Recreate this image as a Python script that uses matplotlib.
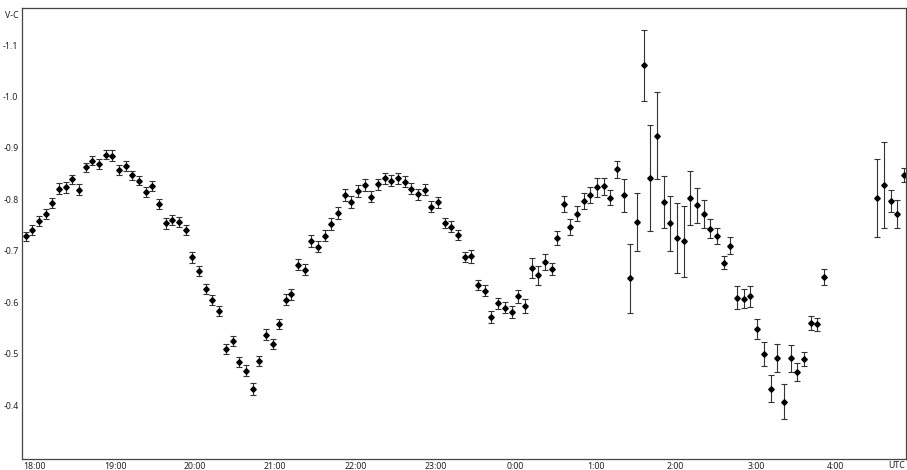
import numpy as np
import matplotlib
matplotlib.use("Agg")
import matplotlib.pyplot as plt

# minutes after 18:00 UTC
minutes = [-7, -2, 3, 8, 13, 18, 23, 28, 33, 38,
           43, 48, 53, 58, 63, 68, 73, 78, 83, 88,
           93, 98, 103, 108, 113, 118, 123, 128, 133, 138,
           143, 148, 153, 158, 163, 168, 173, 178, 183, 188,
           192, 197, 202, 207, 212, 217, 222, 227, 232, 237,
           242, 247, 252, 257, 262, 267, 272, 277, 282, 287,
           292, 297, 302, 307, 312, 317, 322, 327, 332, 337,
           342, 347, 352, 357, 362, 367, 372, 377, 382, 387,
           391, 396, 401, 406, 411, 416, 421, 426, 431, 436,
           441, 446, 451, 456, 461, 466, 471, 476, 481, 486,
           491, 496, 501, 506, 511, 516, 521, 526, 531, 536,
           541, 546, 551, 556, 561, 566, 571, 576, 581, 586,
           591,
           631, 636, 641, 646, 651]

v_c = [-0.728, -0.740, -0.758, -0.771, -0.793, -0.821, -0.823, -0.839, -0.819, -0.862,
       -0.875, -0.869, -0.887, -0.885, -0.857, -0.865, -0.847, -0.836, -0.814, -0.826,
       -0.791, -0.753, -0.760, -0.756, -0.740, -0.687, -0.660, -0.626, -0.604, -0.583,
       -0.509, -0.524, -0.484, -0.467, -0.431, -0.486, -0.537, -0.519, -0.557, -0.605,
       -0.615, -0.673, -0.663, -0.719, -0.708, -0.729, -0.752, -0.773, -0.808, -0.795,
       -0.816, -0.828, -0.805, -0.829, -0.841, -0.836, -0.841, -0.834, -0.821, -0.810,
       -0.819, -0.786, -0.794, -0.754, -0.747, -0.730, -0.688, -0.689, -0.634, -0.622,
       -0.571, -0.598, -0.589, -0.581, -0.611, -0.593, -0.666, -0.652, -0.678, -0.664,
       -0.725, -0.791, -0.746, -0.772, -0.797, -0.808, -0.823, -0.825, -0.803, -0.858,
       -0.808, -0.646, -0.756, -1.061, -0.842, -0.924, -0.795, -0.753, -0.724, -0.718,
       -0.803, -0.788, -0.772, -0.743, -0.729, -0.677, -0.710, -0.609, -0.607, -0.611,
       -0.548, -0.499, -0.432, -0.492, -0.406, -0.491, -0.464, -0.490, -0.560, -0.557,
       -0.649,
       -0.803, -0.828, -0.797, -0.772, -0.847]

err = [0.009, 0.010, 0.009, 0.010, 0.010, 0.010, 0.010, 0.009, 0.010, 0.009,
       0.009, 0.010, 0.009, 0.010, 0.009, 0.010, 0.009, 0.009, 0.010, 0.009,
       0.009, 0.010, 0.010, 0.010, 0.010, 0.010, 0.010, 0.010, 0.009, 0.010,
       0.010, 0.010, 0.010, 0.011, 0.011, 0.010, 0.011, 0.010, 0.010, 0.011,
       0.010, 0.011, 0.011, 0.011, 0.011, 0.011, 0.011, 0.012, 0.012, 0.012,
       0.011, 0.011, 0.011, 0.011, 0.011, 0.011, 0.011, 0.011, 0.011, 0.011,
       0.011, 0.011, 0.011, 0.010, 0.010, 0.010, 0.009, 0.012, 0.010, 0.011,
       0.012, 0.011, 0.011, 0.012, 0.013, 0.014, 0.019, 0.018, 0.016, 0.012,
       0.013, 0.016, 0.015, 0.015, 0.015, 0.015, 0.018, 0.017, 0.015, 0.016,
       0.032, 0.068, 0.056, 0.069, 0.103, 0.084, 0.051, 0.053, 0.068, 0.069,
       0.053, 0.034, 0.027, 0.018, 0.015, 0.012, 0.016, 0.022, 0.019, 0.020,
       0.020, 0.023, 0.027, 0.027, 0.034, 0.026, 0.018, 0.014, 0.014, 0.013,
       0.016,
       0.076, 0.084, 0.022, 0.027, 0.014]

hour_labels = ["18:00", "19:00", "20:00", "21:00", "22:00", "23:00",
               "0:00", "1:00", "2:00", "3:00", "4:00"]
y_ticks = [-1.1, -1.0, -0.9, -0.8, -0.7, -0.6, -0.5, -0.4]

plt.rcParams['font.family'] = ['Noto Sans', 'DejaVu Sans']

fig = plt.figure(figsize=(9.07, 4.70), dpi=100)
ax = fig.add_axes([22 / 907, 1 - 459 / 470, 884 / 907, 451 / 470])

ax.errorbar(minutes, v_c, yerr=err, fmt='D', color='black', ms=2.8,
            ecolor='#333333', elinewidth=0.8, capsize=2.0, capthick=0.8)

ax.set_xlim(-9.7, 652.5)
ax.set_ylim(-0.295, -1.172)

ax.set_xticks([60 * i for i in range(len(hour_labels))])
ax.set_xticklabels(hour_labels)
ax.set_yticks(y_ticks)
ax.set_yticklabels([f"{t:.1f}" for t in y_ticks])
ax.tick_params(length=0, labelsize=6.3, colors='#222222')
ax.tick_params(axis='y', pad=2.5)
ax.tick_params(axis='x', pad=2.5)

for s in ax.spines.values():
    s.set_color('#444444')
    s.set_linewidth(0.9)

fig.text(5 / 907, 1 - 15 / 470, "V-C", fontsize=6.3, color='#222222', va='center')
fig.text(897 / 907, 1 - 466 / 470, "UTC", fontsize=6.3, color='#222222',
         va='center', ha='center')

fig.savefig("out.png", dpi=100)
